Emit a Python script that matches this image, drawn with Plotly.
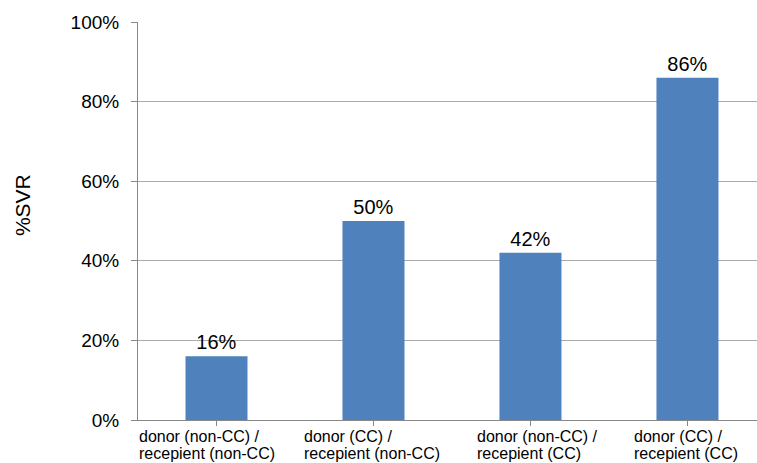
import plotly.graph_objects as go

# Data
line1 = ["donor (non-CC) /", "donor (CC) /", "donor (non-CC) /", "donor (CC) /"]
line2 = ["recepient (non-CC)", "recepient (non-CC)", "recepient (CC)", "recepient (CC)"]
svr_values = [0.16, 0.50, 0.42, 0.86]
y_ticks = [0, 0.2, 0.4, 0.6, 0.8, 1.0]
y_tick_labels = ["0%", "20%", "40%", "60%", "80%", "100%"]

FONT = "Liberation Sans, Arial, sans-serif"
x_pos = list(range(len(line1)))
# horizontal offset (px) of each label block from its slot's left boundary
label_offsets = [-1, 7, 23, 23]

fig = go.Figure()
fig.add_trace(go.Bar(
    x=x_pos,
    y=svr_values,
    width=0.395,
    marker=dict(color="#4F81BD", line=dict(width=0)),
    text=[f"{v * 100:.0f}%" for v in svr_values],
    textposition="outside",
    textfont=dict(family=FONT, size=20, color="#000000"),
    cliponaxis=False,
))

# Two-line category labels, left-aligned lines under each bar slot
for i in x_pos:
    for text, dy in ((line1[i], -6), (line2[i], -23)):
        fig.add_annotation(
            x=i - 0.5, xref="x", xshift=label_offsets[i], xanchor="left",
            y=0, yref="paper", yshift=dy, yanchor="top",
            text=text, showarrow=False, align="left",
            font=dict(family=FONT, size=16, color="#000000"),
        )

# Y-axis title
fig.add_annotation(
    x=0, xref="paper", xshift=-116, y=0.54, yref="paper",
    text="%SVR", textangle=-90, showarrow=False,
    xanchor="center", yanchor="middle",
    font=dict(family=FONT, size=21, color="#000000"),
)

fig.update_layout(
    width=757, height=463,
    margin=dict(l=138, r=0, t=22, b=43),
    paper_bgcolor="white", plot_bgcolor="white",
    showlegend=False,
    font=dict(family=FONT, color="#000000"),
)
fig.update_xaxes(
    range=[-0.5, 3.443],
    tickmode="array", tickvals=x_pos, ticktext=[""] * len(x_pos),
    tickson="boundaries", ticks="outside", ticklen=5, tickcolor="#888888",
    showline=True, linecolor="#888888", linewidth=1,
    showgrid=False, zeroline=False,
)
fig.update_yaxes(
    range=[0, 1],
    tickmode="array", tickvals=y_ticks, ticktext=y_tick_labels,
    ticks="outside", ticklen=6, tickcolor="#888888",
    ticklabelstandoff=8,
    tickfont=dict(family=FONT, size=19, color="#000000"),
    showline=True, linecolor="#888888", linewidth=1,
    showgrid=True, gridcolor="#ababab", gridwidth=1,
    zeroline=False,
)

fig.write_html("out.html")
